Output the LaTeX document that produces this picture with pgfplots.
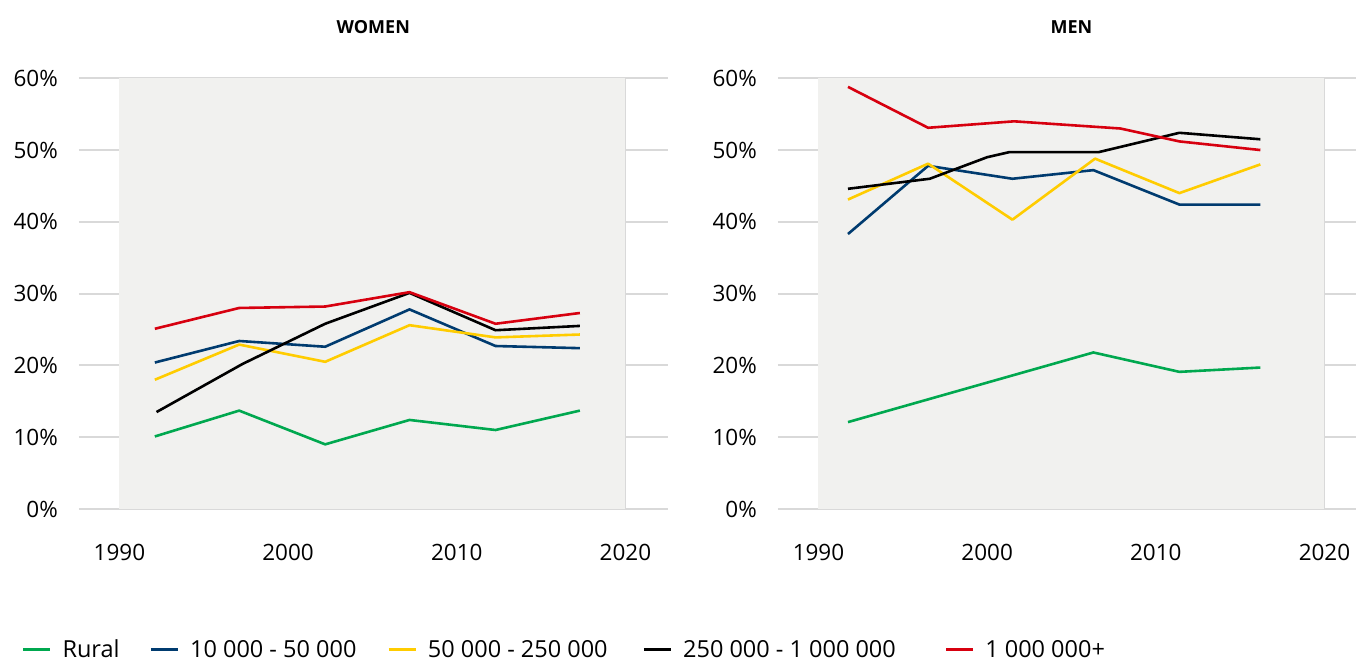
\documentclass[border=0pt]{standalone}
\usepackage{fontspec}
\setmainfont{Open Sans}
\usepackage{pgfplots}
\pgfplotsset{compat=1.18}
\definecolor{cgreen}{HTML}{00A84F}
\definecolor{cblue}{HTML}{003B6F}
\definecolor{cyellow}{HTML}{FFCC00}
\definecolor{cred}{HTML}{D7000F}
\definecolor{cgrid}{HTML}{D9D9D9}
\definecolor{cbg}{HTML}{F1F1EF}
\pgfplotsset{
  panel/.style={
    set layers,
    scale only axis, height=431pt,
    anchor=south west,
    xmin=1987.6, ymin=0, ymax=60,
    axis line style={draw=none},
    tick style={draw=none},
    major tick length=0pt,
    xtick={1990,2000,2010,2020},
    ytick={0,10,20,30,40,50,60},
    yticklabel={\pgfmathprintnumber{\tick}\%},
    /pgf/number format/assume math mode=true,
    x tick label style={/pgf/number format/1000 sep={}, anchor=north, inner sep=0pt, yshift=-35pt},
    y tick label style={anchor=east, inner sep=0pt, xshift=-21pt},
    tick label style={font=\fontsize{22.5}{26}\selectfont},
    xmajorgrids, ymajorgrids,
    x grid style={cgrid, line width=1.3pt},
    y grid style={cgrid, line width=1.8pt},
    title style={at={(0.5,1)}, anchor=center, yshift=45.3pt, font=\bfseries\fontsize{18}{21}\selectfont},
    every axis plot/.append style={line width=2.6pt, line join=round, no markers},
  }
}
\begin{document}
\begin{tikzpicture}[x=1pt,y=1pt]
\path (0,0) rectangle (1357,662);
\begin{axis}[panel, at={(79pt,152.7pt)}, width=589pt, xmax=2022.5, title={WOMEN},
  legend columns=5,
  legend style={at={(-0.0968,-0.3265)}, anchor=west, draw=none, fill=none, inner sep=0pt, outer sep=0pt,
    font=\fontsize{23.5}{27}\selectfont,
    nodes={inner sep=0pt},
    /tikz/every odd column/.append style={column sep=11pt},
    /tikz/column 2/.append style={column sep=30pt},
    /tikz/column 4/.append style={column sep=31pt},
    /tikz/column 6/.append style={column sep=35pt},
    /tikz/column 8/.append style={column sep=49pt}},
  legend image code/.code={\draw[#1, line width=2.6pt] (0pt,0pt) -- (27pt,0pt);},
]
\fill[cbg, on layer=axis background] (axis cs:1990,0) rectangle (axis cs:2020,60);
\addplot[cgreen] coordinates {(1992.1,10.1)(1997.1,13.7)(2002.2,9.0)(2007.2,12.4)(2012.3,11.0)(2017.3,13.7)};
\addlegendentry{Rural}
\addplot[cblue] coordinates {(1992.1,20.4)(1997.1,23.4)(2002.2,22.6)(2007.2,27.8)(2012.3,22.7)(2017.3,22.4)};
\addlegendentry{10 000 - 50 000}
\addplot[cyellow] coordinates {(1992.1,18.0)(1997.1,22.9)(2002.2,20.5)(2007.2,25.6)(2012.3,23.9)(2017.3,24.3)};
\addlegendentry{50 000 - 250 000}
\addplot[black] coordinates {(1992.2,13.5)(1997.3,20.2)(2002.2,25.8)(2007.2,30.1)(2012.3,24.9)(2017.3,25.5)};
\addlegendentry{250 000 - 1 000 000}
\addplot[cred] coordinates {(1992.1,25.1)(1997.1,28.0)(2002.2,28.2)(2007.2,30.2)(2012.3,25.8)(2017.3,27.3)};
\addlegendentry{1 000 000+}
\end{axis}
\begin{axis}[panel, at={(778.5pt,152.7pt)}, width=578.5pt, xmax=2021.877, title={MEN},
  title style={xshift=4.4pt}]
\fill[cbg, on layer=axis background] (axis cs:1990,0) rectangle (axis cs:2020,60);
\addplot[cgreen] coordinates {(1991.75,12.1)(2006.3,21.8)(2011.4,19.1)(2016.2,19.7)};
\addplot[cblue] coordinates {(1991.75,38.3)(1996.5,47.8)(2001.5,46.0)(2006.3,47.2)(2011.4,42.4)(2016.2,42.4)};
\addplot[cyellow] coordinates {(1991.75,43.1)(1996.5,48.1)(2001.5,40.3)(2006.4,48.8)(2011.4,44.0)(2016.2,48.0)};
\addplot[black] coordinates {(1991.75,44.6)(1996.6,46.0)(2000,49.0)(2001.3,49.7)(2006.6,49.7)(2011.4,52.4)(2016.2,51.5)};
\addplot[cred] coordinates {(1991.75,58.8)(1996.5,53.1)(2001.6,54.0)(2007.9,53.0)(2011.4,51.2)(2016.2,50.0)};
\end{axis}
\end{tikzpicture}
\end{document}
